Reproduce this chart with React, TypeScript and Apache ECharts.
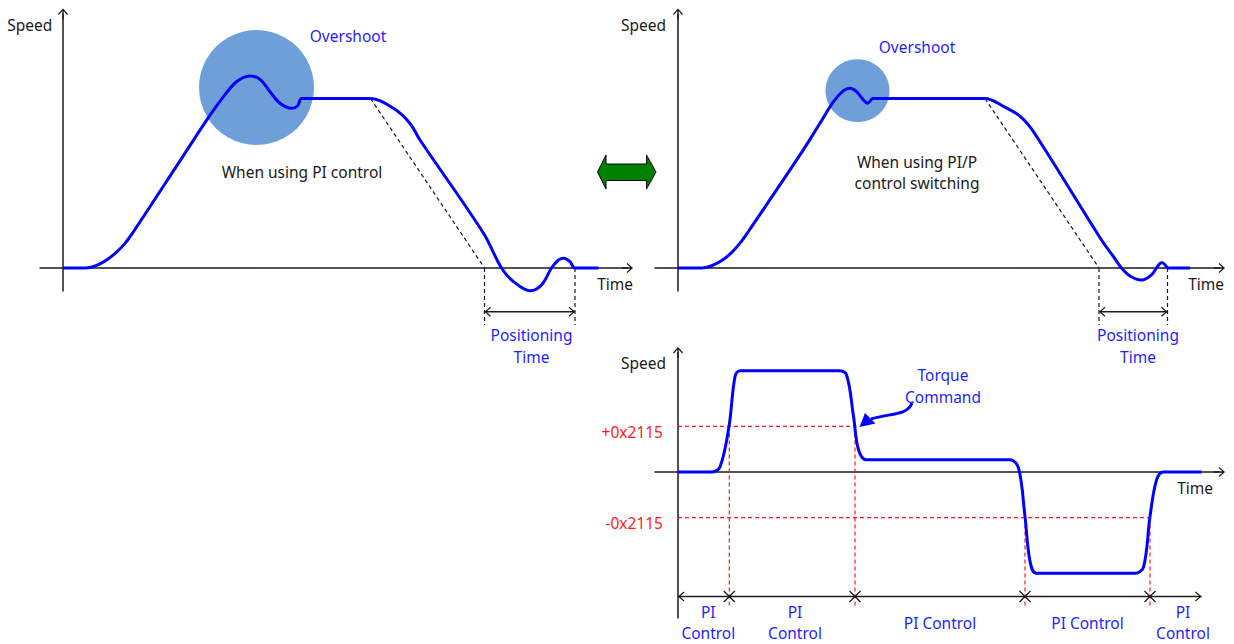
import React, { useEffect, useRef } from 'react';
import * as echarts from 'echarts';

// ---------------- data ----------------
// Panel 1 – speed response using plain PI control (time: arbitrary units, speed: % of command)
const piTime = [0, 4.3, 5.8, 7.4, 9.0, 10.6, 12.2, 13.8, 23.4, 29.0, 32.1, 34.7, 37.4, 39.4, 41.4, 43.4, 45.7, 46.9, 47.7, 49.0, 60.3, 61.5, 66.1, 69.4, 71.4, 84.1, 87.7, 90.1, 93.4, 95.7, 97.7, 99.1, 100.2, 101.4, 102.4, 107.1];
const piSpeed = [0, 0, 0.6, 2.4, 5.3, 9.1, 13.8, 20.1, 63.2, 88.4, 101.1, 109.9, 113.3, 111.3, 104.0, 97.2, 94.2, 95.6, 100, 100, 100, 100, 94.2, 85.3, 75.5, 20.5, 0, -8.0, -13.4, -10.0, 0, 4.7, 5.7, 3.7, 0, 0];
const piIdealTime = [61.5, 84.3];
const piIdealSpeed = [100, 0];
const piPositioning = [84.3, 102.4];
const piOvershootCenter = [38.7, 106.5];

// Panel 2 – speed response using PI/P control switching
const pipTime = [0, 4.7, 6.6, 8.6, 10.6, 12.4, 14.0, 24.4, 28.4, 31.1, 33.1, 34.4, 35.7, 37.1, 37.9, 38.6, 38.9, 40.0, 60.3, 61.4, 65.2, 68.5, 71.3, 84.7, 87.1, 88.7, 90.4, 92.7, 94.7, 96.4, 96.9, 97.6, 97.9, 102.4];
const pipSpeed = [0, 0, 1.2, 4.1, 8.8, 14.7, 21.2, 66.7, 85.4, 98.1, 104.6, 106.0, 104.0, 99.1, 97.2, 99.1, 100, 100, 100, 100, 95.2, 89.3, 79.5, 16.5, 6.7, 0, -4.7, -7.1, -4.1, 2.8, 3.1, 1.2, 0, 0];
const pipIdealTime = [61.4, 84.2];
const pipIdealSpeed = [100, 0];
const pipPositioning = [84.2, 97.9];
const pipOvershootCenter = [35.9, 104.6];

// Panel 3 – torque command and PI / P switching (threshold 0x2115)
const torqueTime = [0, 6.7, 8.4, 10.2, 11.4, 12.4, 32.1, 33.7, 35.1, 36.1, 37.7, 66.4, 68.1, 69.4, 70.4, 71.7, 91.4, 93.1, 94.4, 95.7, 97.1, 104.7];
const torqueValue = [0, 0, 5, 45, 94, 100, 100, 96, 55, 22, 12, 12, 4, -44, -88, -100, -100, -94, -44, -8, 0, 0];
const torqueThreshold = 45;
const thresholdLabels = ['+0x2115', '-0x2115'];
const switchTimes = [10.26, 35.4, 69.4, 94.4];
const timelineEnd = 104.7;
const segmentLabels = [['PI', 'Control'], ['PI', 'Control'], ['PI Control'], ['PI Control'], ['PI', 'Control']];

// ---------------- styles ----------------
const FONT = 'Noto Sans';
const BLUE = '#0000ff';
const LABEL_BLUE = '#1f1fff';
const INK = '#1a1a1a';
const RED = '#ff1a1a';
const LINE_GAP = 21.3;
const AXIS_ARROW = 'path://M0,5.6 L5,0 L10,5.6 L9.1,6.4 L5,1.8 L0.9,6.4 Z M4.35,1 L5.65,1 L5.65,11 L4.35,11 Z';
const HEAD = 'path://M0,5.6 L5,0 L10,5.6 L9.1,6.4 L5,1.8 L0.9,6.4 Z';
const XMARK = 'path://M0,0.9 L0.9,0 L6,5.1 L11.1,0 L12,0.9 L6.9,6 L12,11.1 L11.1,12 L6,6.9 L0.9,12 L0,11.1 L5.1,6 Z';

const pairs = (xs: number[], ys: number[]) => xs.map((x, i) => [x, ys[i]]);

function xAxis(gridIndex: number, min: number, max: number, padRight: number) {
  return {
    type: 'value', gridIndex, min, max,
    name: 'Time', nameLocation: 'end', nameGap: 5.5, nameMoveOverlap: false,
    nameTextStyle: { color: INK, fontSize: 15.5, fontFamily: FONT, align: 'right', verticalAlign: 'top', padding: [8, padRight, 0, 0] },
    axisLine: { show: true, onZero: true, symbol: ['none', AXIS_ARROW], symbolSize: [10, 11], lineStyle: { color: INK, width: 1.5 } },
    axisTick: { show: false }, axisLabel: { show: false }, splitLine: { show: false },
  };
}
function yAxis(gridIndex: number, min: number, max: number, padRight: number, gap: number, labels?: any) {
  return {
    type: 'value', gridIndex, min, max,
    name: 'Speed', nameLocation: 'end', nameGap: gap, nameMoveOverlap: false,
    nameTextStyle: { color: INK, fontSize: 15.5, fontFamily: FONT, align: 'right', verticalAlign: 'middle', padding: [0, padRight, 0, 0] },
    axisLine: { show: true, onZero: true, symbol: ['none', AXIS_ARROW], symbolSize: [10, 11], lineStyle: { color: INK, width: 1.5 } },
    axisTick: { show: false },
    axisLabel: labels || { show: false },
    splitLine: { show: false },
  };
}

function lineSeries(idx: number, data: any[], color: string, width: number, dashed: boolean, smooth: any = false, z = 3) {
  return {
    type: 'line', xAxisIndex: idx, yAxisIndex: idx, data, smooth, symbol: 'none', clip: false, silent: true, z,
    lineStyle: { color, width, type: dashed ? [4, 3] : 'solid' },
    emphasis: { disabled: true },
  };
}

function doubleArrow(idx: number, x0: number, x1: number, y: number) {
  return {
    type: 'line', xAxisIndex: idx, yAxisIndex: idx, clip: false, silent: true, z: 4,
    lineStyle: { color: INK, width: 1.3 },
    itemStyle: { color: INK, borderWidth: 0 },
    emphasis: { disabled: true },
    data: [
      { value: [x0, y], symbol: HEAD, symbolSize: [10, 6.4], symbolRotate: 90, symbolOffset: [3.2, 0] },
      { value: [x1, y], symbol: HEAD, symbolSize: [10, 6.4], symbolRotate: -90, symbolOffset: [-3.2, 0] },
    ],
  };
}

function overshoot(idx: number, center: number[], size: number[]) {
  return {
    type: 'scatter', xAxisIndex: idx, yAxisIndex: idx, data: [center], symbol: 'circle', symbolSize: size,
    itemStyle: { color: '#6f9fd8', opacity: 1 }, z: 1, silent: true, clip: false, emphasis: { disabled: true },
  };
}

// one graphic text element per line, centred on (x, yCenter)
function texts(lines: string[], x: number, yCenter: number, fill: string) {
  const y0 = yCenter - ((lines.length - 1) * LINE_GAP) / 2;
  return lines.map((t, i) => ({
    type: 'text', x, y: y0 + i * LINE_GAP, silent: true, z: 10,
    style: { text: t, fill, fontSize: 15.5, fontFamily: FONT, align: 'center', verticalAlign: 'middle', textAlign: 'center', textVerticalAlign: 'middle' },
  }));
}

const TOP_GUIDE = -33.6;
const TOP_ARROW = -25.8;
const BOTTOM_GUIDE = -134.5;
const TIMELINE = -122.9;

function buildOption() {
  const series: any[] = [];
  // panel 1
  series.push(overshoot(0, piOvershootCenter, [115, 115]));
  series.push(lineSeries(0, pairs(piIdealTime, piIdealSpeed), INK, 1.2, true));
  series.push(lineSeries(0, [[piPositioning[0], 0], [piPositioning[0], TOP_GUIDE]], INK, 1.2, true));
  series.push(lineSeries(0, [[piPositioning[1], 0], [piPositioning[1], TOP_GUIDE]], INK, 1.2, true));
  series.push(doubleArrow(0, piPositioning[0], piPositioning[1], TOP_ARROW));
  series.push(lineSeries(0, pairs(piTime, piSpeed), BLUE, 3, false, 0.35, 5));
  // panel 2
  series.push(overshoot(1, pipOvershootCenter, [64, 63]));
  series.push(lineSeries(1, pairs(pipIdealTime, pipIdealSpeed), INK, 1.2, true));
  series.push(lineSeries(1, [[pipPositioning[0], 0], [pipPositioning[0], TOP_GUIDE]], INK, 1.2, true));
  series.push(lineSeries(1, [[pipPositioning[1], 0], [pipPositioning[1], TOP_GUIDE]], INK, 1.2, true));
  series.push(doubleArrow(1, pipPositioning[0], pipPositioning[1], TOP_ARROW));
  series.push(lineSeries(1, pairs(pipTime, pipSpeed), BLUE, 3, false, 0.35, 5));
  // panel 3 guides
  series.push(lineSeries(2, [[0, torqueThreshold], [switchTimes[1] + 0.3, torqueThreshold]], RED, 1.2, true));
  series.push(lineSeries(2, [[0, -torqueThreshold], [switchTimes[3], -torqueThreshold]], RED, 1.2, true));
  series.push(lineSeries(2, [[switchTimes[0], torqueThreshold], [switchTimes[0], BOTTOM_GUIDE]], RED, 1.2, true));
  series.push(lineSeries(2, [[switchTimes[1], torqueThreshold], [switchTimes[1], BOTTOM_GUIDE]], RED, 1.2, true));
  series.push(lineSeries(2, [[switchTimes[2], -torqueThreshold], [switchTimes[2], BOTTOM_GUIDE]], RED, 1.2, true));
  series.push(lineSeries(2, [[switchTimes[3], -torqueThreshold], [switchTimes[3], BOTTOM_GUIDE]], RED, 1.2, true));
  // timeline
  series.push({
    type: 'line', xAxisIndex: 2, yAxisIndex: 2, clip: false, silent: true, z: 4,
    lineStyle: { color: INK, width: 1.3 },
    itemStyle: { color: INK, borderWidth: 0 },
    emphasis: { disabled: true },
    data: [
      { value: [0, TIMELINE], symbol: HEAD, symbolSize: [10, 6.4], symbolRotate: 90, symbolOffset: [3.2, 0] },
      ...switchTimes.map((t) => ({ value: [t, TIMELINE], symbol: XMARK, symbolSize: 12 })),
      { value: [timelineEnd, TIMELINE], symbol: HEAD, symbolSize: [10, 6.4], symbolRotate: -90, symbolOffset: [-3.2, 0] },
    ],
  });
  series.push(lineSeries(2, pairs(torqueTime, torqueValue), BLUE, 3, false, 0.35, 5));

  const graphic: any[] = [
    {
      type: 'polygon', silent: true,
      shape: { points: [[597.5, 172], [606, 155], [606, 164], [646.5, 164], [646.5, 155], [656, 172], [646.5, 189], [646.5, 180.5], [606, 180.5], [606, 189]] },
      style: { fill: '#008000', stroke: '#000', lineWidth: 1 },
    },
    ...texts(['Overshoot'], 348, 36, LABEL_BLUE),
    ...texts(['When using PI control'], 302, 172, INK),
    ...texts(['Positioning', 'Time'], 531.5, 346, LABEL_BLUE),
    ...texts(['Overshoot'], 917, 47, LABEL_BLUE),
    ...texts(['When using PI/P', 'control switching'], 917, 172.5, INK),
    ...texts(['Positioning', 'Time'], 1138, 346, LABEL_BLUE),
    ...texts(['Torque', 'Command'], 943, 386, LABEL_BLUE),
    ...texts(segmentLabels[0], 708.3, 622.6, LABEL_BLUE),
    ...texts(segmentLabels[1], 795, 622.6, LABEL_BLUE),
    ...texts(segmentLabels[2], 940, 623.3, LABEL_BLUE),
    ...texts(segmentLabels[3], 1087.5, 623.3, LABEL_BLUE),
    ...texts(segmentLabels[4], 1183, 622.6, LABEL_BLUE),
    {
      type: 'bezierCurve', silent: true,
      shape: { x1: 912, y1: 403, cpx1: 907, cpy1: 416, cpx2: 890, cpy2: 413, x2: 871, y2: 419 },
      style: { stroke: BLUE, lineWidth: 3, fill: null },
    },
    {
      type: 'polygon', silent: true,
      shape: { points: [[859.5, 427], [865, 413], [875.5, 423.5]] },
      style: { fill: BLUE },
    },
  ];

  return {
    animation: false,
    backgroundColor: '#ffffff',
    textStyle: { fontFamily: FONT },
    grid: [
      { left: 40, top: 14, width: 587.5, height: 277, containLabel: false, outerBoundsMode: 'none' },
      { left: 655, top: 14, width: 564.5, height: 277, containLabel: false, outerBoundsMode: 'none' },
      { left: 655, top: 352.5, width: 564.5, height: 265.5, containLabel: false, outerBoundsMode: 'none' },
    ],
    xAxis: [
      xAxis(0, -4.6, 112.9, 0),
      xAxis(1, -4.6, 108.3, 1),
      xAxis(2, -4.6, 108.3, 12),
    ],
    yAxis: [
      yAxis(0, -13.57, 149.85, 10.8, -11),
      yAxis(1, -13.57, 149.85, 12, -11),
      yAxis(2, -144.13, 117.97, 12, -10.5, {
        show: true,
        customValues: [torqueThreshold, -torqueThreshold],
        formatter: (v: number) => (v > 0 ? thresholdLabels[0] : thresholdLabels[1]),
        color: RED, fontSize: 15.5, fontFamily: FONT, margin: -8,
        verticalAlign: 'top', lineHeight: 10.6,
      }),
    ],
    series,
    graphic,
  };
}

export default function App() {
  const ref = useRef<HTMLDivElement>(null);
  useEffect(() => {
    if (!ref.current) return;
    const chart = echarts.init(ref.current, null, { renderer: 'svg' });
    chart.setOption(buildOption() as any);
    return () => chart.dispose();
  }, []);
  return (
    <div
      ref={ref}
      style={{ position: 'fixed', left: 0, top: 0, width: 1234, height: 644, background: '#ffffff' }}
    />
  );
}
